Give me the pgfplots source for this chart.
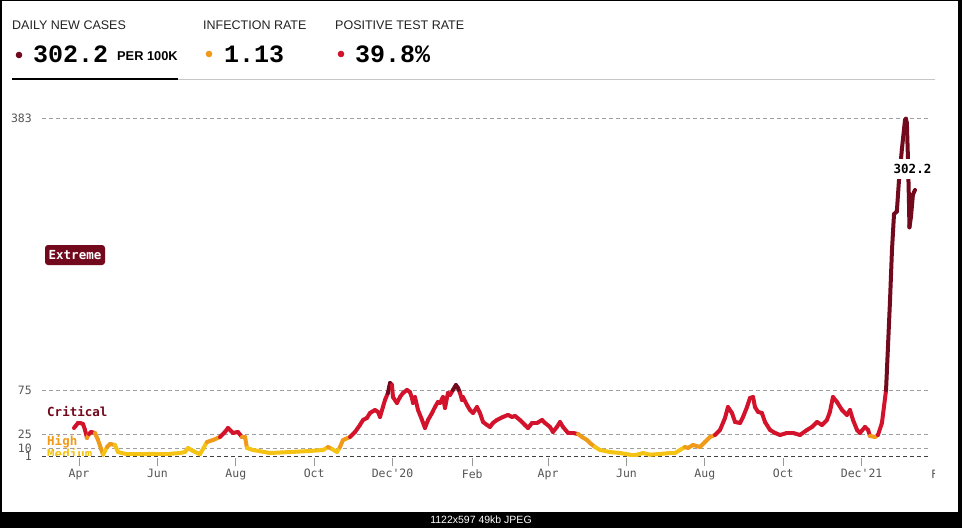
\documentclass[border=0pt]{standalone}
\usepackage{pgfplots}
\pgfplotsset{compat=1.18}
\usepackage{fontspec}
\setmainfont{Liberation Sans}
\newfontfamily\lmono{Liberation Mono}
\newfontfamily\dmono{DejaVu Sans Mono}
\definecolor{cyel}{HTML}{F5C314}
\definecolor{cora}{HTML}{F09A1A}
\definecolor{cred}{HTML}{D3122B}
\definecolor{cdk}{HTML}{72091C}
\definecolor{ctxt}{HTML}{555555}
\definecolor{chead}{HTML}{222222}
\pgfplotstableread{
d v
87.1 32.7
90.2 38.4
91.8 38.4
94.1 37.3
95.7 30.5
97.2 21.4
98.8 25.9
100.3 28.2
103.4 27.1
105.8 19.1
109.7 2.5
112.8 11.2
115.1 14.6
119.0 13.5
121.3 5.5
128.3 3.0
138.5 3.0
150.1 3.5
161.8 3.5
169.6 4.4
173.5 5.5
175.8 10.1
179.7 6.7
185.1 3.0
190.6 16.9
195.3 19.1
200.7 22.5
204.6 28.2
206.9 32.7
210.8 27.1
214.7 28.2
217.8 22.5
220.2 22.5
221.7 10.1
226.4 7.8
239.6 4.4
255.2 5.5
270.7 6.7
280.9 7.8
284.7 11.2
287.9 8.9
291.7 5.5
294.1 11.2
296.4 19.1
301.9 22.5
305.8 28.2
309.6 36.1
312.0 41.8
315.1 44.1
317.4 49.7
321.3 53.1
323.7 50.9
325.2 45.2
327.5 56.5
329.1 64.4
331.4 72.4
333.0 83.7
334.5 81.4
335.3 67.8
338.4 61.0
340.8 67.8
343.1 72.4
346.2 75.8
348.5 73.5
350.1 66.7
350.9 61.0
352.4 67.8
354.8 53.1
357.9 41.8
360.2 32.7
362.6 41.8
365.7 49.7
368.0 56.5
370.3 62.2
371.9 61.0
374.2 67.8
375.8 55.4
377.3 66.7
378.1 72.4
379.7 70.1
382.0 75.8
384.3 81.4
385.9 78.0
387.5 72.4
389.0 64.4
389.8 67.8
392.9 58.8
395.2 53.1
397.6 49.7
400.7 56.5
403.0 49.7
405.4 39.5
408.5 36.1
410.8 33.9
413.1 38.4
416.2 41.8
420.9 45.2
424.8 47.5
427.9 45.2
430.3 46.3
434.1 41.8
438.0 36.1
440.4 32.7
443.5 38.4
447.4 38.4
451.3 41.8
453.6 38.4
457.5 33.9
459.8 28.2
462.9 33.9
465.3 39.5
467.6 33.9
471.5 27.1
475.4 27.1
479.3 25.9
482.4 22.5
486.3 19.1
488.6 15.7
492.5 11.2
496.4 7.8
504.2 5.5
511.9 4.4
519.7 2.5
525.2 2.5
529.8 4.4
535.3 2.5
543.1 3.3
550.9 4.4
554.8 4.4
558.6 7.8
562.5 11.2
564.9 10.1
568.8 13.5
574.2 11.2
578.1 16.9
582.0 22.5
585.9 24.8
589.8 30.5
593.7 44.1
596.0 56.5
599.1 49.7
601.5 39.5
605.4 38.4
607.7 45.2
610.8 56.5
613.1 66.7
615.5 67.8
617.0 56.5
619.4 50.9
622.4 49.7
624.8 39.5
628.7 30.5
632.6 27.1
636.5 24.8
641.9 27.1
646.6 27.1
652.0 24.8
657.5 30.5
661.4 33.9
665.3 39.5
669.1 36.1
673.0 41.8
675.3 50.9
677.7 67.8
680.8 62.2
684.7 53.1
688.6 47.5
690.9 53.1
693.3 41.8
696.4 30.5
698.7 27.1
702.6 33.9
705.0 30.5
706.5 23.7
710.4 22.5
712.7 24.8
715.8 38.4
719.0 75.8
722.1 177.7
723.6 234
725.2 275
727.4 278
729.0 312
731.3 348
733.7 381
734.5 383
735.2 378
736.0 340
736.8 291
737.2 260
738.4 272
739.9 297
741.5 302.2
}\cases
\begin{document}
\begin{tikzpicture}[x=1pt,y=1pt]
\useasboundingbox (0,-528) rectangle (962,0);
\fill[black] (0,-528) rectangle (962,0);
\fill[white] (2,-512) rectangle (958,-1);
\node[white, font=\fontsize{10.5}{12}\selectfont] at (481,-520) {1122x597 49kb JPEG};
% header
\node[anchor=base west, inner sep=0pt, text=chead, font=\fontsize{12.5}{15}\selectfont] at (12,-29) {DAILY NEW CASES};
\node[anchor=base west, inner sep=0pt, text=chead, font=\fontsize{12.5}{15}\selectfont] at (203,-29) {INFECTION RATE};
\node[anchor=base west, inner sep=0pt, text=chead, font=\fontsize{12.5}{15}\selectfont] at (335,-29) {POSITIVE TEST RATE};
\fill[cdk] (19,-55) circle (3.3);
\fill[cora] (209,-54) circle (3.3);
\fill[cred] (341,-54) circle (3.3);
\node[anchor=base west, inner sep=0pt, font=\lmono\bfseries\fontsize{25}{28}\selectfont] at (33,-62) {302.2};
\node[anchor=base west, inner sep=0pt, font=\bfseries\fontsize{12.8}{14}\selectfont] at (117,-60) {PER 100K};
\node[anchor=base west, inner sep=0pt, font=\lmono\bfseries\fontsize{25}{28}\selectfont] at (224,-62) {1.13};
\node[anchor=base west, inner sep=0pt, font=\lmono\bfseries\fontsize{25}{28}\selectfont] at (355,-62) {39.8\%};
\draw[gray!45, line width=1pt] (178,-79.5) -- (935,-79.5);
\draw[black, line width=2.6pt] (12,-79) -- (178,-79);
% level labels
\fill[cdk, rounded corners=3pt] (45,-265) rectangle (105,-245);
\node[white, font=\dmono\bfseries\fontsize{12.5}{14}\selectfont] at (75,-255) {Extreme};
\node[anchor=base west, inner sep=0pt, text=cdk, font=\dmono\bfseries\fontsize{12.5}{14}\selectfont] at (47,-416) {Critical};
\node[anchor=base west, inner sep=0pt, text=cora, font=\dmono\bfseries\fontsize{12.5}{14}\selectfont] at (47,-445) {High};
\node[anchor=base west, inner sep=0pt, text=cyel, font=\dmono\bfseries\fontsize{12.5}{14}\selectfont] at (47,-458.5) {Medium};
\fill[white] (44,-464) rectangle (100,-455.8);
\begin{axis}[
  at={(42pt,-458.2pt)}, anchor=south west,
  scale only axis, width=888pt, height=354.5pt,
  xmin=62.2, xmax=753.2, ymin=-1.5, ymax=400,
  axis line style={draw=none},
  xtick pos=bottom, ytick pos=left,
  xtick={91,152,213,274,335,397,456,517,578,639,700},
  xticklabels={Apr,Jun,Aug,Oct,{Dec\textquotesingle 20},Feb,Apr,Jun,Aug,Oct,{Dec\textquotesingle 21}},
  ytick={10,25,75,383},
  extra y ticks={1},
  extra y tick style={grid style={black!75, dash pattern=on 4pt off 3pt, line width=0.9pt}},
  ymajorgrids,
  grid style={gray!75, dash pattern=on 4pt off 3pt, line width=0.9pt},
  ytick style={draw=none},
  xtick style={draw=gray!80, line width=1pt},
  tick align=outside,
  major tick length=8pt,
  /pgf/number format/assume math mode=true,
  tick label style={font=\dmono\fontsize{11.5}{13}\selectfont, text=ctxt},
  yticklabel style={anchor=east, inner sep=0pt, xshift=-2pt},
  xticklabel style={inner sep=0pt, yshift=-3pt},
  colormap={levels}{color(0pt)=(cyel) color(10pt)=(cora) color(25pt)=(cred) color(75pt)=(cdk) color(400pt)=(cdk)},
  colormap access=piecewise constant,
  point meta min=0, point meta max=400,
  clip=false,
]
\addplot[mesh, point meta=y, line width=4pt, line cap=round, line join=round] table[x=d, y=v] {\cases};
\end{axis}
\node[fill=white, inner xsep=1pt, inner ysep=5pt, font=\dmono\bfseries\fontsize{12.5}{14}\selectfont] at (912.5,-169) {302.2};
\node[anchor=base, inner sep=0pt, text=ctxt, font=\dmono\fontsize{11.5}{13}\selectfont] at (941.4,-478) {Feb};
\fill[white] (935,-505) rectangle (957,-100);
\end{tikzpicture}
\end{document}
